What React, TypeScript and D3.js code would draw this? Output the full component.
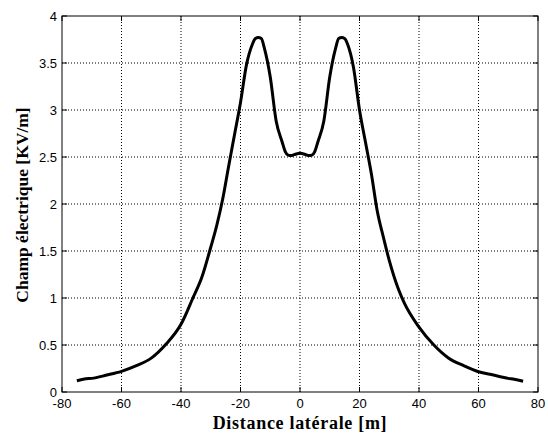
import React from "react";
import * as d3 from "d3";

const xs = [-75, -72, -70, -65, -60, -55, -50, -45, -40, -36, -33, -30, -28, -26, -24, -22, -20, -18, -16, -15, -14, -13, -12, -10, -8, -6, -5, -4, -3, -2, 0, 2, 3, 4, 5, 6, 8, 10, 12, 13, 14, 15, 16, 18, 20, 22, 24, 26, 28, 30, 33, 35, 40, 45, 50, 55, 60, 65, 70, 72, 75];
const ys = [0.12, 0.14, 0.145, 0.18, 0.22, 0.28, 0.36, 0.51, 0.72, 1.0, 1.22, 1.54, 1.77, 2.05, 2.4, 2.74, 3.08, 3.48, 3.7, 3.76, 3.77, 3.76, 3.66, 3.35, 2.88, 2.66, 2.56, 2.52, 2.515, 2.525, 2.54, 2.525, 2.515, 2.52, 2.56, 2.66, 2.88, 3.35, 3.66, 3.76, 3.77, 3.76, 3.7, 3.45, 3.0, 2.66, 2.32, 1.92, 1.65, 1.4, 1.1, 0.95, 0.69, 0.5, 0.36, 0.28, 0.215, 0.18, 0.145, 0.135, 0.115];
const xTicks = [-80, -60, -40, -20, 0, 20, 40, 60, 80];
const yTicks = [0, 0.5, 1, 1.5, 2, 2.5, 3, 3.5, 4];
const xLabel = "Distance latérale [m]";
const yLabel = "Champ électrique [KV/m]";

export default function App() {
  const L = 62, R = 538, T = 16, B = 392;
  const x = d3.scaleLinear().domain([-80, 80]).range([L, R]);
  const y = d3.scaleLinear().domain([0, 4]).range([B, T]);
  const pts: [number, number][] = xs.map((v, i) => [v, ys[i]]);
  const line = d3.line<[number, number]>().x(d => x(d[0])).y(d => y(d[1])).curve(d3.curveMonotoneX);
  const tl = 5;
  const sans = "Liberation Sans, Arial, Helvetica, sans-serif";
  const serif = "Liberation Serif, Times New Roman, serif";
  return (
    <svg width={548} height={434} style={{ position: "absolute", left: 0, top: 0, background: "#fff" }}>
      <rect x={0} y={0} width={548} height={434} fill="#fff" />
      {xTicks.slice(1, -1).map(t => (
        <line key={"gx" + t} x1={x(t)} x2={x(t)} y1={T} y2={B} stroke="#000" strokeWidth={1} strokeDasharray="1,2" />
      ))}
      {yTicks.slice(1, -1).map(t => (
        <line key={"gy" + t} x1={L} x2={R} y1={y(t)} y2={y(t)} stroke="#000" strokeWidth={1} strokeDasharray="1,2" />
      ))}
      {xTicks.map(t => (
        <g key={"tx" + t}>
          <line x1={x(t)} x2={x(t)} y1={B} y2={B - tl} stroke="#000" />
          <line x1={x(t)} x2={x(t)} y1={T} y2={T + tl} stroke="#000" />
          <text x={x(t)} y={408} textAnchor="middle" fontFamily={sans} fontSize={13}>{t}</text>
        </g>
      ))}
      {yTicks.map(t => (
        <g key={"ty" + t}>
          <line x1={L} x2={L + tl} y1={y(t)} y2={y(t)} stroke="#000" />
          <line x1={R} x2={R - tl} y1={y(t)} y2={y(t)} stroke="#000" />
          <text x={57} y={y(t) + 5} textAnchor="end" fontFamily={sans} fontSize={13}>{t}</text>
        </g>
      ))}
      <rect x={L} y={T} width={R - L} height={B - T} fill="none" stroke="#000" strokeWidth={1} />
      <path d={line(pts) || ""} fill="none" stroke="#000" strokeWidth={3} strokeLinejoin="round" />
      <text x={300} y={429} textAnchor="middle" fontFamily={serif} fontWeight="bold" fontSize={18} letterSpacing={0.7}>{xLabel}</text>
      <text transform={`translate(28,205) rotate(-90)`} textAnchor="middle" fontFamily={serif} fontWeight="bold" fontSize={17.5}>{yLabel}</text>
    </svg>
  );
}
